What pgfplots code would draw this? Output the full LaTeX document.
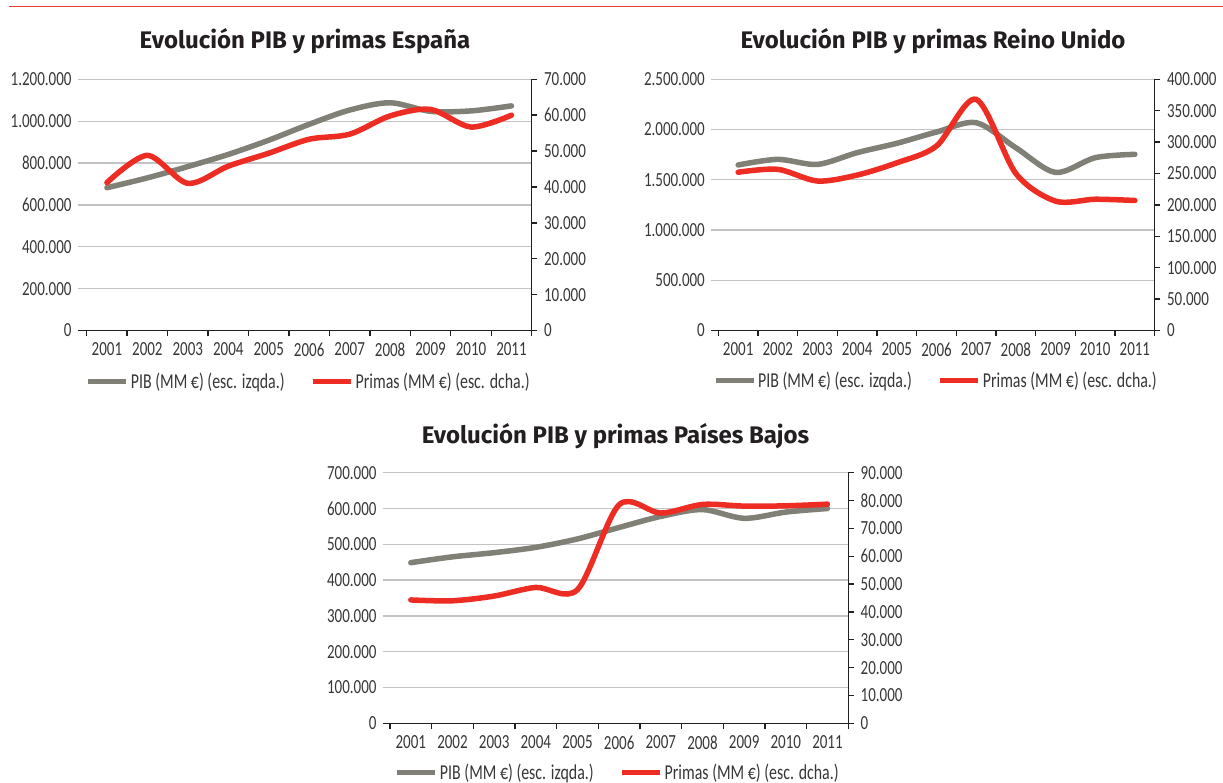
\documentclass[border=0pt]{standalone}
\usepackage{fontspec}
\setmainfont{Carlito}
\newfontfamily\condfont{Carlito}[FakeStretch=0.75]
\newfontfamily\titlefont{Fira Sans}
\usepackage{pgfplots}
\pgfplotsset{compat=1.18}
\definecolor{gdp}{RGB}{128,128,118}
\definecolor{prem}{RGB}{237,45,35}
\definecolor{gridc}{RGB}{195,195,195}
\definecolor{axc}{RGB}{35,31,32}
\definecolor{txt}{RGB}{55,55,55}
\definecolor{rulec}{RGB}{232,57,43}
\newcommand{\lblfont}{\condfont\fontsize{20}{24}\selectfont}
\newcommand{\legfont}{\condfont\fontsize{21.2}{25}\selectfont}
\pgfplotsset{
  leftax/.style={scale only axis, clip=false, separate axis lines,
    scaled y ticks=false, scaled x ticks=false,
    axis x line*=bottom, axis y line*=left,
    x axis line style={-, draw=axc, line width=1.4pt},
    y axis line style={draw=none},
    xmax=11.5, ymin=0,
    xtick={1,...,11},
    xticklabels={2001,2002,2003,2004,2005,2006,2007,2008,2009,2010,2011},
    minor xtick={0.5,1.5,...,11.5},
    major tick length=0pt, minor tick length=6pt, tick align=outside,
    minor tick style={axc, line width=1.4pt},
    ymajorgrids, major grid style={gridc, line width=1.3pt},
    ticklabel style={font=\lblfont, text=txt, inner sep=0pt},
    xticklabel style={anchor=north, yshift=-12pt},
    yticklabel style={anchor=east, xshift=-6pt},
  },
  rightax/.style={scale only axis, clip=false,
    scaled y ticks=false,
    axis x line=none, axis y line*=right,
    y axis line style={-, draw=axc, line width=1.4pt},
    xmax=11.5, ymin=0,
    major tick length=5.7pt, tick align=outside,
    major tick style={axc, line width=1.4pt},
    ticklabel style={font=\lblfont, text=txt, inner sep=0pt},
    yticklabel style={anchor=west, xshift=6.5pt},
    legend columns=2,
    legend style={draw=none, fill=none, anchor=center, font=\legfont, text=txt,
      /tikz/every even column/.append style={column sep=24pt}},
    legend image code/.code={\draw[#1, line width=5pt, line cap=butt] (0pt,0pt) -- (38pt,0pt);},
  },
  gdpline/.style={gdp, line width=5.5pt, smooth, line cap=round},
  premline/.style={prem, line width=5.5pt, smooth, line cap=round},
}
\begin{document}
\begin{tikzpicture}
\path[use as bounding box] (0pt,0pt) rectangle (1223pt,783pt);
\draw[rulec, line width=1.8pt] (9pt,776.5pt) -- (1223pt,776.5pt);

% ---------------- España ----------------
\begin{axis}[leftax, at={(77.7pt,452.5pt)}, anchor=south west,
  width=454pt, height=251.2pt, xmin=0.278, ymax=1200000,
  ytick={0,200000,400000,600000,800000,1000000,1200000},
  yticklabels={0,200.000,400.000,600.000,800.000,1.000.000,1.200.000}]
\addplot[gdpline] coordinates {(1,682000) (2,729000) (3,783000) (4,841000) (5,909000) (6,985000) (7,1053000) (8,1088000) (9,1047000) (10,1049000) (11,1073000)};
\end{axis}
\begin{axis}[rightax, at={(77.7pt,452.5pt)}, anchor=south west,
  width=454pt, height=251.2pt, xmin=0.278, ymax=70000,
  ytick={0,10000,20000,30000,40000,50000,60000,70000},
  yticklabels={0,10.000,20.000,30.000,40.000,50.000,60.000,70.000},
  legend style={at={(0.509,-0.203)}}]
\addlegendimage{gdpline}
\addplot[premline] coordinates {(1,41200) (2,48800) (3,41000) (4,45800) (5,49400) (6,53300) (7,54700) (8,59800) (9,61600) (10,56700) (11,60000)};
\legend{PIB (MM €) (esc. izqda.), Primas (MM €) (esc. dcha.)}
\end{axis}
\node[font=\titlefont\bfseries\fontsize{24}{28}\selectfont, anchor=base, text=axc] at (305pt,734pt) {Evolución PIB y primas España};

% ---------------- Reino Unido ----------------
\begin{axis}[leftax, at={(711pt,452.5pt)}, anchor=south west,
  width=443.7pt, height=251.2pt, xmin=0.316, ymax=2500000,
  ytick={0,500000,1000000,1500000,2000000,2500000},
  yticklabels={0,500.000,1.000.000,1.500.000,2.000.000,2.500.000}]
\addplot[gdpline] coordinates {(1,1647000) (2,1703000) (3,1653000) (4,1770000) (5,1863000) (6,1975000) (7,2068000) (8,1819000) (9,1573000) (10,1720000) (11,1753000)};
\end{axis}
\begin{axis}[rightax, at={(711pt,452.5pt)}, anchor=south west,
  width=443.7pt, height=251.2pt, xmin=0.316, ymax=400000,
  ytick={0,50000,100000,150000,200000,250000,300000,350000,400000},
  yticklabels={0,50.000,100.000,150.000,200.000,250.000,300.000,350.000,400.000},
  legend style={at={(0.507,-0.2)}}]
\addlegendimage{gdpline}
\addplot[premline] coordinates {(1,252000) (2,256600) (3,238000) (4,247500) (5,267000) (6,293700) (7,368000) (8,250000) (9,206000) (10,209000) (11,207000)};
\legend{PIB (MM €) (esc. izqda.), Primas (MM €) (esc. dcha.)}
\end{axis}
\node[font=\titlefont\bfseries\fontsize{24}{28}\selectfont, anchor=base, text=axc] at (933pt,734pt) {Evolución PIB y primas Reino Unido};

% ---------------- Países Bajos ----------------
\begin{axis}[leftax, at={(382.7pt,59.7pt)}, anchor=south west,
  width=465.6pt, height=250.6pt, xmin=0.325, ymax=700000,
  ytick={0,100000,200000,300000,400000,500000,600000,700000},
  yticklabels={0,100.000,200.000,300.000,400.000,500.000,600.000,700.000}]
\addplot[gdpline] coordinates {(1,448700) (2,465000) (3,476600) (4,491500) (5,515000) (6,547000) (7,578000) (8,597000) (9,572500) (10,590000) (11,600000)};
\end{axis}
\begin{axis}[rightax, at={(382.7pt,59.7pt)}, anchor=south west,
  width=465.6pt, height=250.6pt, xmin=0.325, ymax=90000,
  ytick={0,10000,20000,30000,40000,50000,60000,70000,80000,90000},
  yticklabels={0,10.000,20.000,30.000,40.000,50.000,60.000,70.000,80.000,90.000},
  legend style={at={(0.505,-0.197)}}]
\addlegendimage{gdpline}
\addplot[premline] coordinates {(1,44300) (2,44000) (3,45700) (4,48800) (5,48000) (6,78500) (7,75500) (8,78600) (9,78000) (10,78100) (11,78700)};
\legend{PIB (MM €) (esc. izqda.), Primas (MM €) (esc. dcha.)}
\end{axis}
\node[font=\titlefont\bfseries\fontsize{24}{28}\selectfont, anchor=base, text=axc] at (615.5pt,339.7pt) {Evolución PIB y primas Países Bajos};
\end{tikzpicture}
\end{document}
